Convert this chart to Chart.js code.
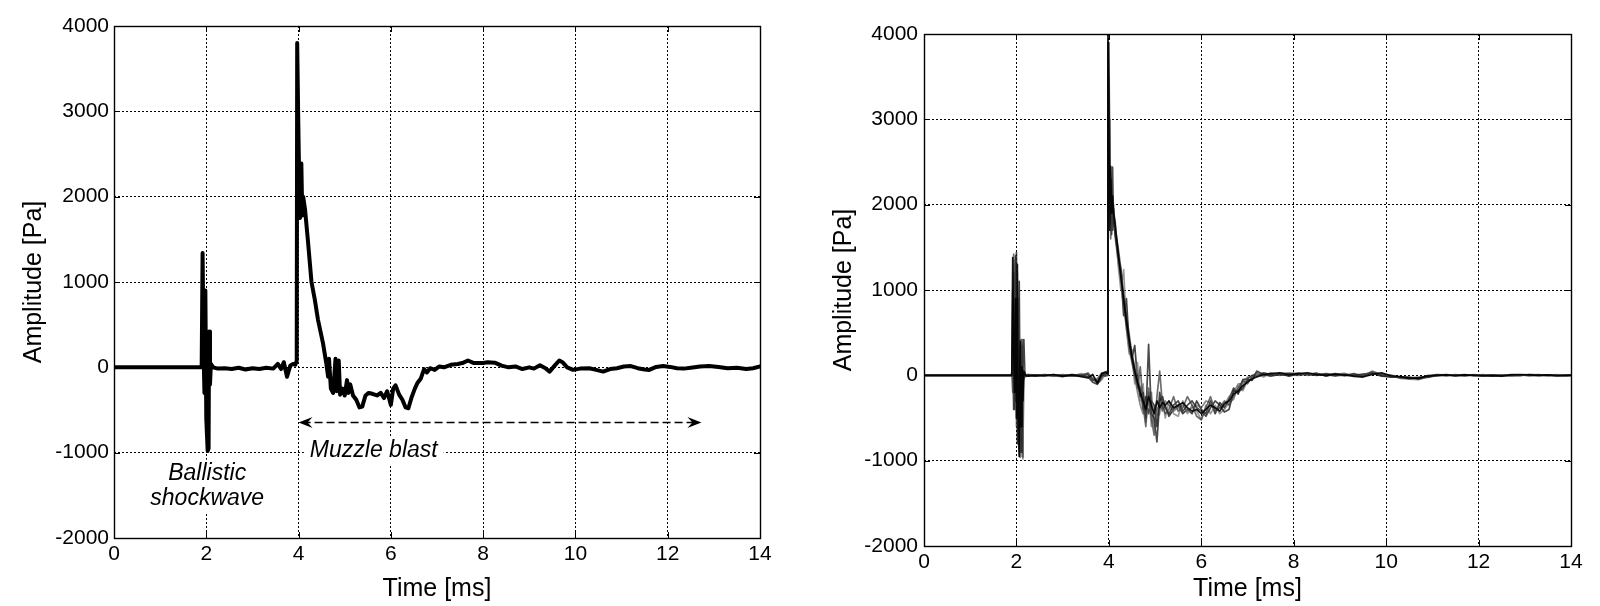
<!DOCTYPE html>
<html><head><meta charset="utf-8">
<script src="https://cdn.jsdelivr.net/npm/chart.js@4.4.0/dist/chart.umd.min.js"></script>
<style>
html,body{margin:0;padding:0;background:#fff;}
#wrap{position:relative;width:1600px;height:606px;overflow:hidden;background:#fff;}
.box{position:absolute;top:0;width:800px;height:606px;}
</style></head><body>
<div id="wrap">
<div class="box" style="left:0"><canvas id="c1" width="800" height="606"></canvas></div>
<div class="box" style="left:800px"><canvas id="c2" width="800" height="606"></canvas></div>
</div>
<script>
// ---------- DATA ----------
const xTicks = [0, 2, 4, 6, 8, 10, 12, 14];
const yTicks = [-2000, -1000, 0, 1000, 2000, 3000, 4000];
const xTitle = 'Time [ms]';
const yTitle = 'Amplitude [Pa]';

// Left panel: single recording
const timeL = [
 0,1.90,1.92,1.94,1.96,1.98,2.00,2.03,2.05,2.06,
 2.08,2.10,2.15,2.25,2.4,2.55,2.7,2.85,3.0,3.15,
 3.3,3.45,3.55,3.62,3.68,3.75,3.82,3.88,3.93,3.96,
 3.97,3.99,4.01,4.03,4.06,4.08,4.10,4.14,4.2,4.28,
 4.35,4.42,4.53,4.6,4.64,4.66,4.70,4.75,4.80,4.83,
 4.87,4.90,4.95,5.0,5.05,5.08,5.12,5.18,5.25,5.32,
 5.38,5.45,5.52,5.6,5.7,5.78,5.85,5.92,6.0,6.05,
 6.1,6.18,6.25,6.32,6.38,6.45,6.52,6.58,6.65,6.72,
 6.78,6.85,6.95,7.05,7.15,7.3,7.45,7.55,7.67,7.8,
 8.0,8.1,8.25,8.4,8.55,8.7,8.85,9.0,9.1,9.23,
 9.35,9.44,9.55,9.65,9.72,9.82,9.95,10.1,10.3,10.45,
 10.6,10.75,10.9,11.05,11.2,11.35,11.5,11.6,11.75,11.9,
 12.05,12.2,12.35,12.5,12.7,12.9,13.1,13.3,13.5,13.7,
 13.85,14.0];
const ampL = [
 0,0,1340,200,-300,900,-600,-980,-950,420,
 -200,40,0,-15,-10,-20,-5,-25,-10,-20,
 -5,-15,40,-20,60,-110,20,40,30,80,
 3800,3000,2300,1750,2390,1780,2000,1850,1500,1000,
 800,560,280,50,-110,100,-250,-300,100,-280,
 80,-320,-250,-330,-150,-300,-200,-330,-380,-470,
 -460,-330,-300,-310,-330,-300,-360,-280,-440,-250,
 -210,-320,-380,-470,-480,-350,-250,-180,-130,-20,
 -60,-10,-30,10,0,30,40,50,80,50,
 50,60,55,20,0,10,-20,0,-15,25,
 -10,-50,20,80,60,0,-30,-15,-10,-30,
 -50,-20,-10,10,15,-10,-25,-30,5,15,
 5,-10,-15,-5,10,15,5,-10,-5,-20,
 -10,10];

// Right panel: several overlaid recordings on a shared time base
const timeR = [
 0,1.88,1.90,1.92,1.94,1.96,1.98,2.00,2.02,2.04,
 2.06,2.08,2.10,2.12,2.14,2.16,2.18,2.20,2.25,2.4,
 2.6,2.8,3.0,3.2,3.4,3.55,3.65,3.75,3.85,3.92,
 3.96,3.98,4.00,4.02,4.04,4.06,4.08,4.10,4.14,4.2,
 4.26,4.32,4.38,4.44,4.5,4.56,4.62,4.68,4.74,4.8,
 4.86,4.92,4.98,5.04,5.1,5.16,5.22,5.3,5.4,5.5,
 5.6,5.7,5.8,5.9,6.0,6.1,6.2,6.3,6.4,6.5,
 6.6,6.7,6.8,6.9,7.0,7.1,7.2,7.35,7.5,7.7,
 7.9,8.1,8.3,8.5,8.7,8.9,9.1,9.3,9.5,9.7,
 9.9,10.1,10.3,10.5,10.7,10.9,11.1,11.3,11.5,11.7,
 11.9,12.1,12.3,12.5,12.7,12.9,13.1,13.3,13.5,13.7,
 13.9,14.0];
const traceR1 = [
 0,0,0,1380,300,-200,900,-500,1300,-700,
 -950,400,-600,100,-300,50,20,0,-10,0,
 -5,10,-10,5,-15,-30,10,-90,20,40,
 20,4100,3000,1700,2450,1900,2100,1900,1750,1450,
 1150,900,650,420,220,60,-80,-200,-300,-400,
 -250,-350,-450,-300,-380,-320,-350,-300,-380,-350,
 -320,-380,-420,-400,-450,-400,-350,-380,-420,-330,
 -300,-220,-180,-120,-80,-40,-20,10,20,30,
 10,20,30,10,0,15,5,-10,-20,10,
 30,-5,-15,-30,-35,-10,0,5,-5,5,
 0,-5,0,-10,5,10,5,0,5,-5,
 0,0];
const traceR2 = [
 0,0,30,-200,1420,500,-300,1100,-400,900,
 -300,-960,420,-200,50,-30,0,10,0,5,
 0,-10,10,-5,5,20,-60,-40,30,10,
 50,3600,2200,3000,1600,2300,1800,2000,1700,1500,
 1250,950,700,480,250,100,-150,100,-350,-600,
 -150,-500,-700,-250,50,-350,-450,-400,-250,-420,
 -380,-250,-350,-480,-520,-380,-250,-420,-380,-300,
 -350,-250,-150,-60,-100,-10,30,0,10,20,
 25,10,15,20,10,-10,10,0,0,40,
 10,-10,-30,-20,-45,-20,5,-5,10,-5,
 5,-10,5,0,-5,5,0,10,0,0,
 5,0];
const traceR3 = [
 0,0,0,0,1200,-400,600,1440,-800,-200,
 300,-700,-900,350,-100,30,-10,0,10,-10,
 10,0,-15,10,0,-20,-80,-105,-20,30,
 40,2000,3900,2500,2000,1650,2440,1800,1650,1400,
 1240,850,600,380,180,20,-100,-250,-200,-500,
 363,-450,-500,-780,-300,-250,-380,-450,-350,-300,
 -420,-350,-300,-380,-420,-480,-380,-300,-350,-430,
 -400,-180,-200,-150,-50,-60,50,10,-10,10,
 0,15,10,0,20,5,-5,20,-10,30,
 0,-20,-20,-40,-30,-5,10,0,0,10,
 -5,0,-10,-5,0,0,10,5,0,0,
 -5,0];
const traceR4 = [
 0,0,0,200,-300,1350,800,-600,1000,200,
 -800,200,380,-950,150,-50,30,-10,5,0,
 5,-5,0,10,-10,30,-40,-60,0,20,
 0,3000,2600,2300,2100,1800,1950,1850,1600,1350,
 1100,800,560,300,150,-20,-200,-350,-450,-300,
 -350,-200,-600,-400,-350,-420,-300,-350,-420,-380,
 -350,-420,-380,-350,-380,-300,-320,-400,-380,-350,
 -250,-200,-100,-100,-20,-20,0,20,0,10,
 5,0,20,5,10,0,15,5,-5,20,
 20,0,-25,-25,-40,0,-10,10,0,0,
 10,-5,-5,5,0,-5,10,0,-5,0,
 0,0];
const traceR5 = [
 0,0,0,0,0,1300,-300,400,1200,-500,
 200,-900,-300,420,-980,100,0,-20,10,5,
 -10,10,0,-10,20,-10,-30,-100,-50,10,
 30,3200,3500,2000,1800,2200,1700,1900,1800,1300,
 1000,1240,550,250,300,-100,150,-300,-100,-550,
 -200,-600,-400,-500,-450,-250,-500,-300,-450,-480,
 -300,-450,-350,-420,-520,-350,-450,-350,-450,-400,
 -320,-280,-120,-180,-60,-50,10,-20,30,0,
 20,30,0,15,-5,10,25,-15,-10,50,
 10,5,-35,-45,-50,-15,5,10,-10,0,
 0,10,-5,5,-5,0,5,-5,0,10,
 -5,0];
const traceR6 = [
 0,0,0,1000,-400,200,1400,-100,600,-300,
 1100,-500,-300,-700,-960,420,50,-10,0,-5,
 0,5,-5,-10,0,10,-50,-80,10,-10,
 0,3900,2800,2100,1900,2050,1700,1950,1650,1400,
 1200,700,900,350,200,350,-50,-150,-400,-250,
 -450,-300,-350,-600,-200,-400,-350,-480,-400,-350,
 -450,-400,-450,-300,-400,-450,-300,-450,-320,-380,
 -280,-150,-220,-50,-40,0,-10,30,10,20,
 -10,20,10,25,-10,20,0,0,15,25,
 -10,-15,-20,-30,-25,-25,0,0,5,-5,
 5,5,0,-5,10,5,-5,0,5,-5,
 0,5];

// ---------- ANNOTATIONS (left panel) ----------
const notesL = [
  {lines: ['Ballistic', 'shockwave'], x: 2.02, y: [-1247, -1540]},
  {lines: ['Muzzle blast'], x: 5.63, y: [-973]}
];
const arrowL = {from: 4.0, to: 12.73, at: -637};

// ---------- HELPERS ----------
const FONT = "'Liberation Sans', Arial, Helvetica, sans-serif";
function pts(t, v) {
  const n = Math.min(t.length, v.length);
  const out = [];
  for (let i = 0; i < n; i++) out.push({x: t[i], y: v[i]});
  return out;
}

function framePlugin(notes, arrow) {
  return {
    id: 'frame',
    beforeDatasetsDraw(chart) {
      if (!notes) return;
      const {ctx, scales: {x, y}} = chart;
      ctx.save();
      ctx.font = 'italic 23px ' + FONT;
      ctx.textAlign = 'center';
      ctx.textBaseline = 'middle';
      notes.forEach(n => {
        const cx = x.getPixelForValue(n.x);
        const ys = n.y.map(v => y.getPixelForValue(v));
        let w = 0;
        n.lines.forEach(s => { w = Math.max(w, ctx.measureText(s).width); });
        const top = Math.min(...ys) - 14, bot = Math.max(...ys) + 14;
        ctx.fillStyle = '#fff';
        ctx.fillRect(cx - w / 2 - 6, top, w + 12, bot - top);
        ctx.fillStyle = '#000';
        n.lines.forEach((s, i) => ctx.fillText(s, cx, ys[i]));
      });
      if (arrow) {
        const x1 = x.getPixelForValue(arrow.from), x2 = x.getPixelForValue(arrow.to);
        const ay = Math.round(y.getPixelForValue(arrow.at)) + 0.5;
        ctx.strokeStyle = '#000';
        ctx.lineWidth = 1.3;
        ctx.setLineDash([8, 4]);
        ctx.beginPath(); ctx.moveTo(x1 + 4, ay); ctx.lineTo(x2 - 4, ay); ctx.stroke();
        ctx.setLineDash([]);
        ctx.fillStyle = '#000';
        const head = (tx, dir) => {
          ctx.beginPath();
          ctx.moveTo(tx, ay);
          ctx.lineTo(tx + dir * 14, ay - 5.5);
          ctx.lineTo(tx + dir * 9, ay);
          ctx.lineTo(tx + dir * 14, ay + 5.5);
          ctx.closePath();
          ctx.fill();
        };
        head(x1, 1); head(x2, -1);
      }
      ctx.restore();
    },
    afterDraw(chart) {
      const {ctx, chartArea: a, scales: {x, y}} = chart;
      ctx.save();
      ctx.strokeStyle = '#000';
      ctx.lineWidth = 1;
      ctx.setLineDash([]);
      ctx.beginPath();
      xTicks.forEach(v => {
        const p = Math.round(x.getPixelForValue(v)) + 0.5;
        ctx.moveTo(p, a.bottom); ctx.lineTo(p, a.bottom - 6);
        ctx.moveTo(p, a.top); ctx.lineTo(p, a.top + 6);
      });
      yTicks.forEach(v => {
        const p = Math.round(y.getPixelForValue(v)) + 0.5;
        ctx.moveTo(a.left, p); ctx.lineTo(a.left + 6, p);
        ctx.moveTo(a.right, p); ctx.lineTo(a.right - 6, p);
      });
      ctx.stroke();
      ctx.lineWidth = 1.4;
      ctx.strokeRect(Math.round(a.left) + 0.5, Math.round(a.top) + 0.5,
                     Math.round(a.right - a.left), Math.round(a.bottom - a.top));
      ctx.restore();
    }
  };
}

function makeOptions(cfg) {
  return {
    responsive: false,
    animation: false,
    devicePixelRatio: 1,
    layout: {padding: {left: 0, top: cfg.padTop, right: cfg.padRight, bottom: 0}},
    plugins: {legend: {display: false}, tooltip: {enabled: false}},
    elements: {point: {radius: 0}, line: {tension: 0}},
    scales: {
      x: {
        type: 'linear', min: 0, max: 14,
        afterBuildTicks: s => { s.ticks = xTicks.map(v => ({value: v})); },
        afterFit: s => { s.height = cfg.xAxisH; },
        grid: {color: '#000', lineWidth: 1, drawTicks: false},
        border: {display: false, dash: [2, 2]},
        ticks: {color: '#000', padding: 4, maxRotation: 0, autoSkip: false,
                font: {family: FONT, size: 21}, callback: v => String(v)},
        title: {display: true, text: xTitle, color: '#000',
                font: {family: FONT, size: 25}, padding: {top: 0, bottom: 2}}
      },
      y: {
        type: 'linear', min: -2000, max: 4000,
        afterBuildTicks: s => { s.ticks = yTicks.map(v => ({value: v})); },
        afterFit: s => { s.width = cfg.yAxisW; },
        grid: {color: '#000', lineWidth: 1, drawTicks: false},
        border: {display: false, dash: [2, 2]},
        ticks: {color: '#000', padding: cfg.yTickPad, autoSkip: false,
                font: {family: FONT, size: 21}, callback: v => String(v)},
        title: {display: true, text: yTitle, color: '#000',
                font: {family: FONT, size: 25}, padding: {top: cfg.yTitlePad, bottom: 0}}
      }
    }
  };
}

new Chart(document.getElementById('c1'), {
  type: 'line',
  data: {datasets: [{
    data: pts(timeL, ampL), borderColor: '#000', borderWidth: 4,
    borderJoinStyle: 'round', borderCapStyle: 'round', pointRadius: 0, fill: false
  }]},
  options: makeOptions({padTop: 26, padRight: 40, xAxisH: 68, yAxisW: 114, yTickPad: 5, yTitlePad: 19}),
  plugins: [framePlugin(notesL, arrowL)]
});

const rightTraces = [traceR1, traceR2, traceR3, traceR4, traceR5, traceR6];
const rightColors = ['rgba(0,0,0,0.9)', 'rgba(60,60,60,0.75)', 'rgba(30,30,30,0.8)',
                     'rgba(90,90,90,0.7)', 'rgba(110,110,110,0.7)', 'rgba(20,20,20,0.8)'];
new Chart(document.getElementById('c2'), {
  type: 'line',
  data: {datasets: rightTraces.map((tr, i) => ({
    data: pts(timeR, tr), borderColor: rightColors[i], borderWidth: 1.7,
    borderJoinStyle: 'round', pointRadius: 0, fill: false
  }))},
  options: makeOptions({padTop: 34, padRight: 29, xAxisH: 60, yAxisW: 124, yTickPad: 6, yTitlePad: 29}),
  plugins: [framePlugin(null, null)]
});
</script>
</body></html>
